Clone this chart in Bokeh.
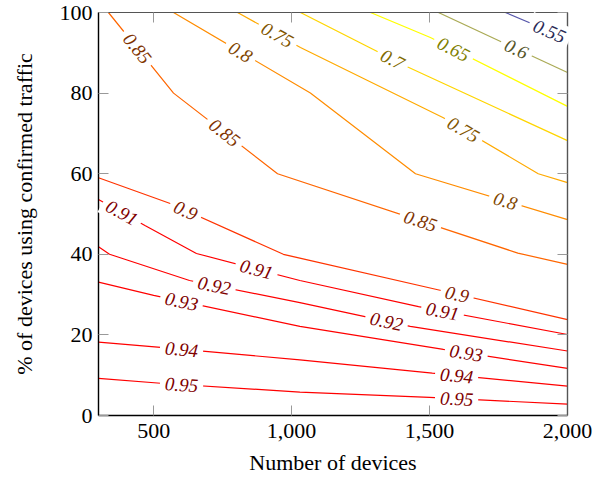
import math
from bokeh.plotting import figure
from bokeh.models import FixedTicker, NumeralTickFormatter, LinearAxis, ColumnDataSource, Range1d
from bokeh.embed import file_html
from bokeh.resources import INLINE
from bokeh.core.properties import value

# ---- data (contour lines of a surface) ----
levels = [0.55, 0.6, 0.65, 0.7, 0.75, 0.8, 0.85, 0.9, 0.91, 0.92, 0.93, 0.94, 0.95]

c055_x = [1775, 2000]
c055_y = [100, 93.5]
c060_x = [1532, 2000]
c060_y = [100, 85.1]
c065_x = [1286, 1503, 2000]
c065_y = [100, 93.8, 76.7]
c070_x = [1032, 1423, 2000]
c070_y = [100, 86.4, 68.2]
c075_x = [804, 1032, 1550, 1894, 2000]
c075_y = [100, 91.3, 73.9, 60, 57.8]
c080_x = [572, 1068, 1449, 2000]
c080_y = [100, 80, 60, 48.6]
c085_x = [336, 572, 949, 1820, 2000]
c085_y = [100, 80, 60, 40.3, 37.5]
c090_x = [300, 560, 970, 1530, 2000]
c090_y = [59, 52.6, 40, 31.2, 23.8]
c091_x = [300, 470, 655, 1030, 1460, 2000]
c091_y = [53.6, 47.1, 40.2, 33.5, 27, 20.1]
c092_x = [300, 340, 630, 1030, 1430, 2000]
c092_y = [41.9, 40, 33.5, 28, 22.1, 16]
c093_x = [300, 500, 1030, 1550, 2000]
c093_y = [33.1, 29.8, 22.1, 16.4, 11.7]
c094_x = [300, 525, 1030, 1510, 2000]
c094_y = [18.2, 16.9, 13.8, 10.5, 7.3]
c095_x = [300, 525, 1030, 1500, 2000]
c095_y = [9.2, 8.0, 5.8, 4.5, 2.8]

contour_x = [c055_x, c060_x, c065_x, c070_x, c075_x, c080_x, c085_x,
             c090_x, c091_x, c092_x, c093_x, c094_x, c095_x]
contour_y = [c055_y, c060_y, c065_y, c070_y, c075_y, c080_y, c085_y,
             c090_y, c091_y, c092_y, c093_y, c094_y, c095_y]

# x positions along each contour where its label sits
label_at = [[1935], [1815], [1587], [1366], [949, 1623], [815, 1775],
            [441, 757, 1467], [616, 1600], [385, 873, 1547], [720, 1344],
            [601, 1633], [601, 1598], [601, 1598]]

line_colors = ["#5555aa", "#aaaa55", "#ffff00", "#ffd500", "#ffaa00", "#ff8c00",
               "#ff6600", "#ff3300", "#ff0000", "#ff0000", "#ff0000", "#ff0000", "#ff0000"]

x_ticks = [500, 1000, 1500, 2000]
y_ticks = [0, 20, 40, 60, 80, 100]
x_label = "Number of devices"
y_label = "% of devices using confirmed traffic"

# ---- figure ----
X0, X1, Y0, Y1 = 300, 2000, 0, 100
W, H = 606, 482
ML, MR, MT, MB = 98, 39, 12, 67
FW, FH = W - ML - MR, H - MT - MB

p = figure(width=W, height=H, x_range=Range1d(X0, X1), y_range=Range1d(Y0, Y1),
           output_backend="svg", toolbar_location=None,
           min_border_left=ML, min_border_right=MR, min_border_top=MT, min_border_bottom=MB,
           x_axis_label=x_label, y_axis_label=y_label)
p.xgrid.visible = False
p.ygrid.visible = False
p.outline_line_color = "#555555"
p.outline_line_width = 1.2
p.background_fill_color = "white"
p.border_fill_color = "white"

FONT = "Liberation Serif"

def style_axis(ax, ticks, main):
    ax.ticker = FixedTicker(ticks=ticks)
    ax.major_tick_in = 10
    ax.major_tick_out = 0
    ax.minor_tick_in = 0
    ax.minor_tick_out = 0
    ax.major_tick_line_color = "#999999"
    ax.major_tick_line_width = 1
    if main:
        ax.axis_line_color = "black"
        ax.axis_line_width = 1.3
        ax.major_label_text_font = FONT
        ax.major_label_text_font_size = "22px"
        ax.major_label_text_color = "black"
        ax.axis_label_text_font = FONT
        ax.axis_label_text_font_size = "22px"
        ax.axis_label_text_font_style = "normal"
        ax.axis_label_text_color = "black"
    else:
        ax.axis_line_color = "#555555"
        ax.axis_line_width = 1.2
        ax.major_label_overrides = {t: "" for t in ticks}
        ax.major_label_standoff = 0

xa = p.xaxis[0]
ya = p.yaxis[0]
style_axis(xa, x_ticks, True)
style_axis(ya, y_ticks, True)
xa.formatter = NumeralTickFormatter(format="0,0")
xa.major_label_standoff = 8
xa.axis_label_standoff = 9
ya.major_label_standoff = 6
ya.axis_label_standoff = 20

top = LinearAxis()
right = LinearAxis()
style_axis(top, x_ticks, False)
style_axis(right, y_ticks, False)
p.add_layout(top, "above")
p.add_layout(right, "right")

# screen scale (px per data unit) for label rotation
sx = FW / (X1 - X0)
sy = FH / (Y1 - Y0)

def darker(hexc, f=0.5):
    r, g, b = int(hexc[1:3], 16), int(hexc[3:5], 16), int(hexc[5:7], 16)
    return "#%02x%02x%02x" % (int(r * f), int(g * f), int(b * f))

lx, ly, la, lt, lc = [], [], [], [], []
for lev, xs, ys, col, ats in zip(levels, contour_x, contour_y, line_colors, label_at):
    p.line(xs, ys, line_color=col, line_width=1.2)
    for xa_ in ats:
        for i in range(len(xs) - 1):
            if xs[i] <= xa_ <= xs[i + 1]:
                t = (xa_ - xs[i]) / (xs[i + 1] - xs[i])
                yv = ys[i] + t * (ys[i + 1] - ys[i])
                ang = math.atan2((ys[i + 1] - ys[i]) * sy, (xs[i + 1] - xs[i]) * sx)
                lx.append(xa_)
                ly.append(yv)
                la.append(ang)
                lt.append(f"{lev:g}")
                lc.append(darker(col))
                break

src = ColumnDataSource(dict(x=lx, y=ly, angle=la, text=lt, color=lc))
r = p.text(x="x", y="y", text="text", angle="angle", source=src,
           text_color="color", text_font=value(FONT), text_font_style="italic",
           text_font_size="19px", text_align="center", text_baseline="middle",
           background_fill_color="white", padding=5)
r.level = "overlay"

open("out.html", "w").write(file_html(p, INLINE))
